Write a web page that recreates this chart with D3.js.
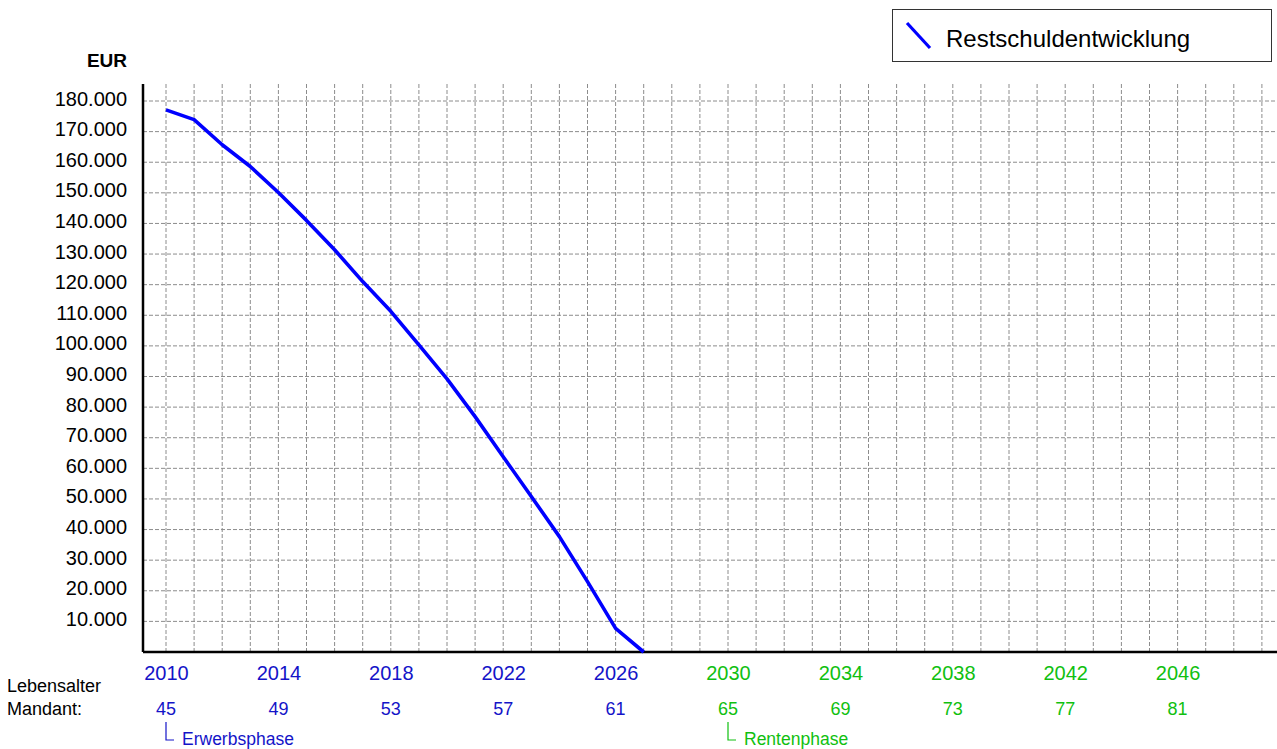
<!DOCTYPE html>
<html>
<head>
<meta charset="utf-8">
<script src="https://cdn.jsdelivr.net/npm/d3@7"></script>
<style>
  body { margin: 0; background: #fff; }
  text { font-family: "Liberation Sans", Arial, sans-serif; }
</style>
</head>
<body>
<div id="chart"></div>
<script>
//Chart data
var years = [2010, 2011, 2012, 2013, 2014, 2015, 2016, 2017, 2018,
             2019, 2020, 2021, 2022, 2023, 2024, 2025, 2026, 2027];
var restschuld = [177100, 173900, 165700, 158600, 150100, 141000, 131400, 121000, 111300,
                  100300, 89200, 76900, 63800, 50800, 37700, 23000, 7700, 0];
var labelYears = [2010, 2014, 2018, 2022, 2026, 2030, 2034, 2038, 2042, 2046];
var ages = [45, 49, 53, 57, 61, 65, 69, 73, 77, 81];
var yTicks = [10000, 20000, 30000, 40000, 50000, 60000, 70000, 80000, 90000,
              100000, 110000, 120000, 130000, 140000, 150000, 160000, 170000, 180000];
var rentenBeginn = 2030;
var seriesName = "Restschuldentwicklung";

//Sizes
var width = 1277;
var height = 749;
var plotLeft = 143, plotRight = 1277, plotTop = 84, plotBottom = 652;

var blue = "#1414c8";
var green = "#10c010";

var de = d3.formatLocale({decimal: ",", thousands: ".", grouping: [3], currency: ["", " €"]});
var fmt = de.format(",d");

var svg = d3.select("#chart").append("svg")
	.attr("width", width)
	.attr("height", height);

//Scales
var x = d3.scaleLinear().domain([2010, 2049]).range([166, 166 + 39 * 28.1]);
var y = d3.scaleLinear().domain([0, 180000]).range([plotBottom, 101]);

var gridYears = d3.range(2010, 2050);

//Grid lines
svg.append("g")
	.selectAll("line")
	.data(gridYears)
	.enter()
	.append("line")
	.attr("x1", function(d){ return x(d); })
	.attr("x2", function(d){ return x(d); })
	.attr("y1", plotTop)
	.attr("y2", plotBottom)
	.attr("stroke", "#8c8c8c")
	.attr("stroke-width", 1)
	.attr("stroke-dasharray", "4,2");

svg.append("g")
	.selectAll("line")
	.data(yTicks)
	.enter()
	.append("line")
	.attr("x1", plotLeft)
	.attr("x2", plotRight)
	.attr("y1", function(d){ return y(d); })
	.attr("y2", function(d){ return y(d); })
	.attr("stroke", "#8c8c8c")
	.attr("stroke-width", 1)
	.attr("stroke-dasharray", "4,2");

//Y axis labels
var yAxis = svg.append("g")
	.attr("transform", "translate(" + plotLeft + ",0)")
	.call(d3.axisLeft(y).tickValues(yTicks).tickSize(0).tickPadding(16).tickFormat(fmt));
yAxis.select(".domain").remove();
yAxis.selectAll("text")
	.attr("font-family", "'Liberation Sans', Arial, sans-serif")
	.attr("font-size", 20)
	.attr("fill", "#000")
	.attr("dy", "0.2em");

//Axis lines
svg.append("line")
	.attr("x1", plotLeft).attr("x2", plotLeft)
	.attr("y1", plotTop).attr("y2", plotBottom)
	.attr("stroke", "#000").attr("stroke-width", 2.5);
svg.append("line")
	.attr("x1", plotLeft).attr("x2", plotRight)
	.attr("y1", plotBottom).attr("y2", plotBottom)
	.attr("stroke", "#000").attr("stroke-width", 2.5);

//Year labels
var xAxis = svg.append("g")
	.attr("transform", "translate(0," + plotBottom + ")")
	.call(d3.axisBottom(x).tickValues(labelYears).tickSize(0).tickPadding(14).tickFormat(d3.format("d")));
xAxis.select(".domain").remove();
xAxis.selectAll("text")
	.attr("font-family", "'Liberation Sans', Arial, sans-serif")
	.attr("font-size", 20)
	.attr("fill", function(d){ return d < rentenBeginn ? blue : green; });

//Age labels
svg.append("g")
	.selectAll("text")
	.data(ages)
	.enter()
	.append("text")
	.attr("x", function(d, i){ return x(labelYears[i]); })
	.attr("y", 715)
	.attr("text-anchor", "middle")
	.attr("font-size", 18)
	.attr("fill", function(d, i){ return labelYears[i] < rentenBeginn ? blue : green; })
	.text(function(d){ return d; });

svg.append("text").attr("x", 7).attr("y", 692).attr("font-size", 18).text("Lebensalter");
svg.append("text").attr("x", 7).attr("y", 715).attr("font-size", 18).text("Mandant:");

//Phase markers
var phases = [{year: 2010, name: "Erwerbsphase", color: blue},
              {year: rentenBeginn, name: "Rentenphase", color: green}];
phases.forEach(function(p)
{
	var px = x(p.year);
	svg.append("path")
		.attr("d", "M" + px + ",722V740H" + (px + 8))
		.attr("fill", "none")
		.attr("stroke", p.color)
		.attr("stroke-width", 1.2);
	svg.append("text")
		.attr("x", px + 16)
		.attr("y", 745)
		.attr("font-size", 17.5)
		.attr("fill", p.color)
		.text(p.name);
});

//EUR label
svg.append("text")
	.attr("x", 127).attr("y", 67)
	.attr("text-anchor", "end")
	.attr("font-size", 19)
	.attr("font-weight", "bold")
	.text("EUR");

//Series line
var line = d3.line()
	.x(function(d){ return x(d[0]); })
	.y(function(d){ return y(d[1]); });

svg.append("path")
	.datum(years.map(function(yr, i){ return [yr, restschuld[i]]; }))
	.attr("d", line)
	.attr("fill", "none")
	.attr("stroke", "#0000ff")
	.attr("stroke-width", 3.6)
	.attr("stroke-linejoin", "round");

//Legend
var legend = svg.append("g");
legend.append("rect")
	.attr("x", 892.5).attr("y", 9.5)
	.attr("width", 379).attr("height", 52)
	.attr("fill", "#fff")
	.attr("stroke", "#333")
	.attr("stroke-width", 1);
legend.append("line")
	.attr("x1", 907).attr("y1", 23)
	.attr("x2", 930).attr("y2", 48)
	.attr("stroke", "#0000ff")
	.attr("stroke-width", 3.2);
legend.append("text")
	.attr("x", 946).attr("y", 46.5)
	.attr("font-size", 24)
	.text(seriesName);
</script>
</body>
</html>
